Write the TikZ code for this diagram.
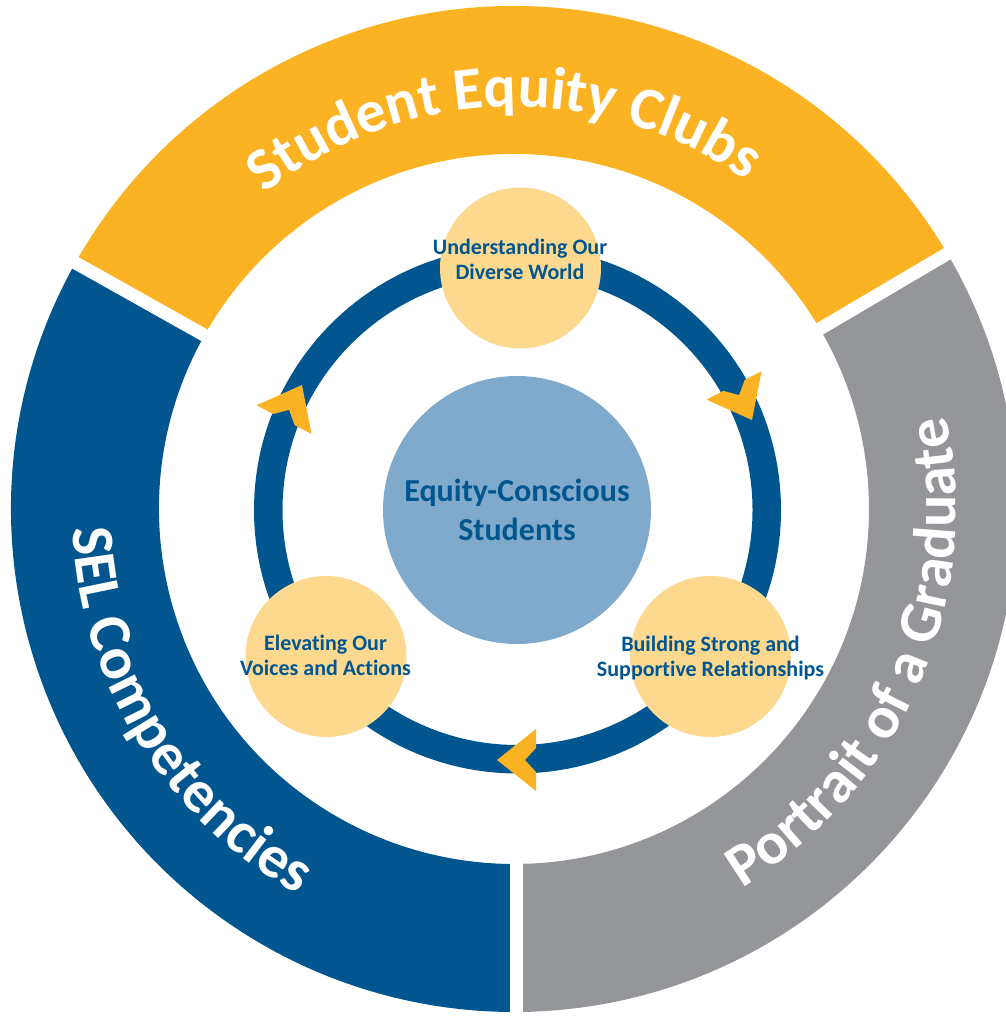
\documentclass[tikz,border=0pt]{standalone}
\usepackage{fontspec}
\setmainfont{Carlito}[Ligatures=NoCommon]
\usetikzlibrary{decorations.text}

\definecolor{segyellow}{HTML}{FBB324}
\definecolor{segblue}{HTML}{02568F}
\definecolor{seggray}{HTML}{959699}
\definecolor{stagefill}{HTML}{FCD98F}
\definecolor{corefill}{HTML}{80AACB}

\newcommand\ringfont{\fontsize{60}{68}\selectfont\bfseries}
% yellow arrowhead: tip at (#1,#2), pointing in direction #3
\newcommand\flowchevron[3]{%
  \fill[chevron, shift={(#1,#2)}, rotate=#3]
    (0,0) -- (-39,31) -- (-39,12) -- (-28,0) -- (-39,-12) -- (-39,-31) -- cycle;}

\begin{document}
\begin{tikzpicture}[x=1pt,y=1pt,
  segment/.style={line width=148pt},
  gap/.style={white, line width=13pt},
  stage/.style={circle, fill=stagefill, minimum size=161pt, inner sep=0pt},
  stagetext/.style={text=segblue, align=center, font=\fontsize{22}{25}\selectfont\bfseries},
  chevron/.style={fill=segyellow},
  ringtext/.style={decorate, decoration={text along path, text align=center,
      text={|\ringfont\color{white}|#1}}}
]
\useasboundingbox (0,0) rectangle (1006,1017);

% outer ring: three coloured segments
\begin{scope}[shift={(514,508)}]
  \draw[segment, segyellow] (30.5:429pt) arc[start angle=30.5, end angle=150.7, radius=429pt];
  \draw[segment, segblue] (150.7:429pt) arc[start angle=150.7, end angle=272, radius=429pt];
  \draw[segment, seggray] (-89.5:429pt) arc[start angle=-89.5, end angle=30.5, radius=429pt];
  % white separations
  \draw[gap] (150.7:330pt) -- (150.7:530pt);
  \draw[gap] (30.5:330pt) -- (30.5:530pt);
  \draw[gap] (2.5,-130) -- (2.5,-520);
  % ring captions
  \path[ringtext=Student Equity Clubs] (171.5:402pt) arc[start angle=171.5, end angle=11.5, radius=402pt];
  \path[ringtext=SEL Competencies] (151.6:442pt) arc[start angle=151.6, end angle=271.6, radius=442pt];
  \path[ringtext=Portrait of a Graduate] (-83.4:442pt) arc[start angle=-83.4, end angle=36.6, radius=442pt];
\end{scope}

% inner cycle
\draw[segblue, line width=28.5pt] (517.5,507) circle[radius=249.25pt];
\flowchevron{302}{632}{62.5}
\flowchevron{752}{597}{-62.6}
\flowchevron{497}{257}{180}

% centre
\node[circle, fill=corefill, minimum size=268pt, inner sep=0pt, text=segblue,
      align=center, font=\fontsize{32}{39}\selectfont\bfseries] (core) at (517,507)
      {Equity-Conscious\\Students};

% stages on the cycle
\node[stage] (top) at (520.5,749) {};
\node[stage] (left) at (326,360.5) {};
\node[stage] (right) at (710.5,360.5) {};
\node[stagetext] (toptext) at (520,758) {Understanding Our\\Diverse World};
\node[stagetext] (lefttext) at (325.5,362) {Elevating Our\\Voices and Actions};
\node[stagetext] (righttext) at (710.5,359) {Building Strong and\\Supportive Relationships};
\end{tikzpicture}
\end{document}
